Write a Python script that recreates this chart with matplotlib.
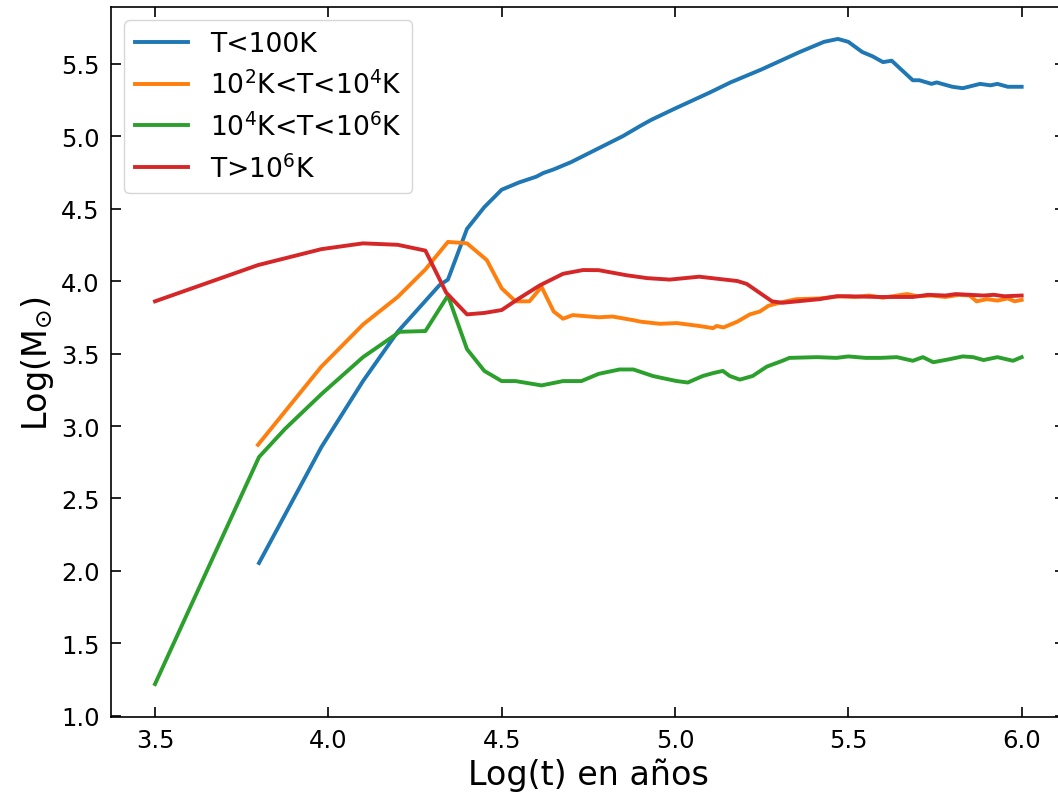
import matplotlib
matplotlib.use("Agg")
import matplotlib.pyplot as plt
import numpy as np


# Log(t) and Log(M) por fase de temperatura
t_frio = [3.80, 3.98, 4.10, 4.20, 4.32, 4.345, 4.40, 4.45, 4.50, 4.55, 4.60, 4.62,
          4.65, 4.70, 4.75, 4.80, 4.85, 4.90, 4.93, 5.00, 5.10, 5.16, 5.25, 5.36,
          5.43, 5.47, 5.50, 5.54, 5.57, 5.60, 5.625, 5.686, 5.705, 5.74, 5.755,
          5.80, 5.83, 5.88, 5.91, 5.93, 5.96, 6.00]
m_frio = [2.055, 2.855, 3.31, 3.65, 3.97, 4.01, 4.36, 4.51, 4.63, 4.68, 4.72, 4.745,
          4.77, 4.82, 4.88, 4.94, 5.00, 5.07, 5.11, 5.19, 5.30, 5.37, 5.46, 5.58,
          5.65, 5.67, 5.65, 5.58, 5.55, 5.51, 5.52, 5.385, 5.385, 5.36, 5.37,
          5.34, 5.33, 5.36, 5.35, 5.36, 5.34, 5.34]

t_tibio = [3.797, 3.98, 4.10, 4.20, 4.28, 4.345, 4.40, 4.457, 4.50, 4.54, 4.58,
           4.615, 4.65, 4.677, 4.705, 4.78, 4.82, 4.88, 4.90, 4.956, 5.005, 5.07,
           5.11, 5.12, 5.14, 5.18, 5.216, 5.245, 5.27, 5.31, 5.35, 5.417, 5.475,
           5.52, 5.56, 5.60, 5.64, 5.67, 5.70, 5.74, 5.78, 5.82, 5.85, 5.87,
           5.90, 5.93, 5.96, 5.98, 6.00]
m_tibio = [2.87, 3.41, 3.70, 3.89, 4.08, 4.27, 4.26, 4.145, 3.95, 3.86, 3.86,
           3.96, 3.79, 3.74, 3.765, 3.75, 3.755, 3.73, 3.72, 3.705, 3.71, 3.69,
           3.675, 3.69, 3.68, 3.72, 3.77, 3.79, 3.83, 3.855, 3.875, 3.88, 3.895,
           3.89, 3.90, 3.885, 3.90, 3.91, 3.895, 3.90, 3.89, 3.905, 3.90, 3.86,
           3.875, 3.865, 3.88, 3.86, 3.87]

t_calido = [3.50, 3.80, 3.875, 3.98, 4.10, 4.206, 4.28, 4.345, 4.40, 4.45, 4.50,
            4.54, 4.615, 4.677, 4.73, 4.78, 4.84, 4.88, 4.936, 4.965, 5.005, 5.037,
            5.08, 5.11, 5.138, 5.158, 5.187, 5.224, 5.265, 5.31, 5.33, 5.41, 5.466,
            5.50, 5.55, 5.593, 5.64, 5.686, 5.715, 5.745, 5.79, 5.83, 5.86, 5.89,
            5.93, 5.975, 6.00]
m_calido = [1.22, 2.786, 2.98, 3.22, 3.475, 3.65, 3.655, 3.90, 3.53, 3.38, 3.31,
            3.31, 3.28, 3.31, 3.31, 3.36, 3.39, 3.39, 3.345, 3.33, 3.31, 3.30,
            3.345, 3.365, 3.38, 3.345, 3.32, 3.345, 3.41, 3.45, 3.47, 3.475, 3.47,
            3.48, 3.47, 3.47, 3.475, 3.45, 3.475, 3.44, 3.46, 3.48, 3.475, 3.455,
            3.475, 3.45, 3.475]

t_caliente = [3.50, 3.797, 3.98, 4.10, 4.20, 4.28, 4.34, 4.40, 4.45, 4.50, 4.55,
              4.61, 4.677, 4.735, 4.78, 4.86, 4.92, 4.985, 5.07, 5.18, 5.207, 5.28,
              5.31, 5.417, 5.466, 5.50, 5.59, 5.686, 5.73, 5.78, 5.81, 5.85, 5.89,
              5.92, 5.95, 6.00]
m_caliente = [3.86, 4.11, 4.22, 4.26, 4.25, 4.21, 3.92, 3.77, 3.78, 3.80, 3.88,
              3.97, 4.05, 4.076, 4.075, 4.04, 4.02, 4.01, 4.03, 4.00, 3.98, 3.86,
              3.85, 3.875, 3.895, 3.895, 3.89, 3.89, 3.905, 3.90, 3.91, 3.905, 3.90,
              3.905, 3.895, 3.90]

etiquetas = ["T<100K", r"10$^2$K<T<10$^4$K", r"10$^4$K<T<10$^6$K", r"T>10$^6$K"]

fig = plt.figure(figsize=(10.58, 8.04), dpi=100)
ax = fig.add_axes([0.1049, 0.107, 0.9017, 0.883])

lw = 2.8
ax.plot(t_frio, m_frio, color='tab:blue', lw=lw, label=etiquetas[0])
ax.plot(t_tibio, m_tibio, color='tab:orange', lw=lw, label=etiquetas[1])
ax.plot(t_calido, m_calido, color='tab:green', lw=lw, label=etiquetas[2])
ax.plot(t_caliente, m_caliente, color='tab:red', lw=lw, label=etiquetas[3])

ax.set_xlim(3.373, 6.125)
ax.set_ylim(0.993, 5.89)
ax.set_xticks([3.5, 4.0, 4.5, 5.0, 5.5, 6.0])
ax.set_yticks([1.0, 1.5, 2.0, 2.5, 3.0, 3.5, 4.0, 4.5, 5.0, 5.5])
ax.tick_params(direction='in', top=True, right=True, labelsize=17.5,
               length=7, width=1.2, pad=8)
for s in ax.spines.values():
    s.set_linewidth(1.2)

ax.set_xlabel("Log(t) en años", fontsize=24)
ax.set_ylabel(r"Log(M$_{\odot}$)", fontsize=24)

ax.legend(loc='upper left', fontsize=19.2, handlelength=2.0, borderaxespad=0.5)

fig.savefig("out.png", dpi=100)
